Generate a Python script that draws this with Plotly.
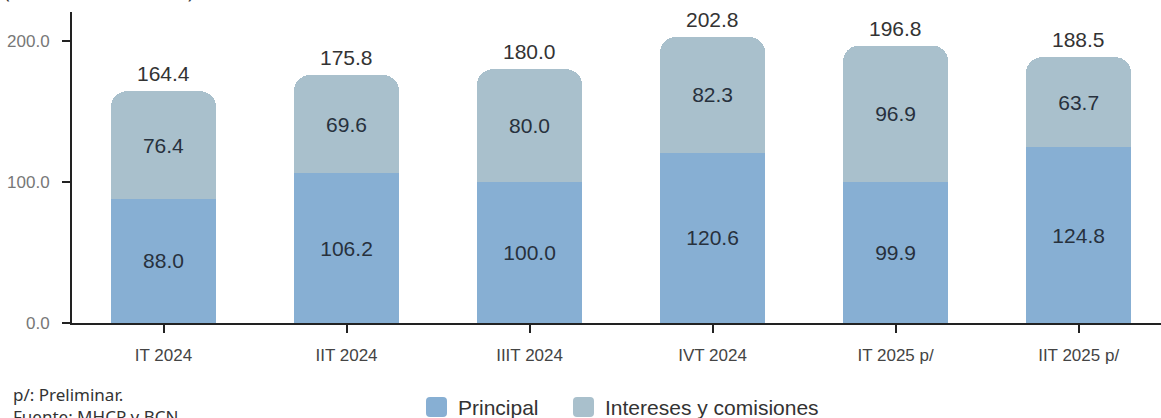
import plotly.graph_objects as go

categories = ["IT 2024", "IIT 2024", "IIIT 2024", "IVT 2024", "IT 2025 p/", "IIT 2025 p/"]
principal = [88.0, 106.2, 100.0, 120.6, 99.9, 124.8]
intereses = [76.4, 69.6, 80.0, 82.3, 96.9, 63.7]
totales = [164.4, 175.8, 180.0, 202.8, 196.8, 188.5]
series_names = ["Principal", "Intereses y comisiones"]

c_principal = "#87afd3"
c_intereses = "#a9c0cc"

W, H = 1161, 418
L, R, T, B = 72, 0, 12, 95
PW, PH = W - L - R, H - T - B


def px_x(px):
    return (px - L) / PW


def px_y(py):
    return (H - B - py) / PH


label_font = dict(family="Liberation Sans, Arial", size=21, color="#27313d")

fig = go.Figure()
for name, vals, col in [(series_names[0], principal, c_principal),
                        (series_names[1], intereses, c_intereses)]:
    fig.add_trace(go.Bar(
        x=categories, y=vals, name=name,
        marker=dict(color=col, line=dict(width=0)),
        text=[f"{v:.1f}" for v in vals], textposition="inside",
        insidetextanchor="middle", textangle=0,
        textfont=label_font, insidetextfont=label_font,
        width=0.575, showlegend=False,
    ))

for c, t in zip(categories, totales):
    fig.add_annotation(x=c, y=t, text=f"{t:.1f}", showarrow=False,
                       yanchor="bottom", yshift=4,
                       font=dict(family="Liberation Sans, Arial", size=21, color="#333333"))

# clipped heading at the very top
fig.add_annotation(xref="paper", yref="paper", x=px_x(2), y=1.0, xanchor="left", yanchor="bottom",
                   yshift=6, text="(Millones de dólares)", showarrow=False,
                   font=dict(family="Noto Sans", size=19.5, color="#333333"))
# footnotes
fig.add_annotation(xref="paper", yref="paper", x=px_x(11), y=px_y(381), xanchor="left", yanchor="top",
                   text="p/: Preliminar.<br>Fuente: MHCP y BCN.", showarrow=False, align="left",
                   font=dict(family="Noto Sans", size=17, color="#333333"))


# legend (custom, larger swatches)
def rounded_rect(x0, y0, x1, y1, r):
    X = lambda v: px_x(v)
    Y = lambda v: px_y(v)
    return (f"M {X(x0 + r)},{Y(y0)} L {X(x1 - r)},{Y(y0)} Q {X(x1)},{Y(y0)} {X(x1)},{Y(y0 + r)} "
            f"L {X(x1)},{Y(y1 - r)} Q {X(x1)},{Y(y1)} {X(x1 - r)},{Y(y1)} "
            f"L {X(x0 + r)},{Y(y1)} Q {X(x0)},{Y(y1)} {X(x0)},{Y(y1 - r)} "
            f"L {X(x0)},{Y(y0 + r)} Q {X(x0)},{Y(y0)} {X(x0 + r)},{Y(y0)} Z")


legend_items = [(series_names[0], c_principal, 426, 458), (series_names[1], c_intereses, 573, 605)]
for name, col, sx, tx in legend_items:
    fig.add_shape(type="path", xref="paper", yref="paper",
                  path=rounded_rect(sx, 397, sx + 21, 417, 4),
                  fillcolor=col, line=dict(width=0), layer="above")
    fig.add_annotation(xref="paper", yref="paper", x=px_x(tx - 2), y=px_y(407),
                       xanchor="left", yanchor="middle", text=name, showarrow=False,
                       font=dict(family="Liberation Sans, Arial", size=21, color="#333333"))

fig.update_layout(
    width=W, height=H,
    barmode="stack", barcornerradius=16,
    margin=dict(l=L, r=R, t=T, b=B, autoexpand=False),
    plot_bgcolor="white", paper_bgcolor="white",
    showlegend=False,
    uniformtext=dict(mode=False),
)
fig.update_xaxes(
    range=[-0.5, 5.45], showline=True, linecolor="#222222", linewidth=2,
    ticks="outside", ticklen=8, tickcolor="#222222", tickwidth=2,
    tickfont=dict(family="Liberation Sans, Arial", size=17, color="#444444"),
    ticklabelstandoff=8,
    showgrid=False, automargin=False,
)
fig.update_yaxes(
    range=[0, 220.6], showline=True, linecolor="#222222", linewidth=2,
    ticks="outside", ticklen=8, tickcolor="#222222", tickwidth=2,
    tickvals=[0, 100, 200], tickformat=".1f",
    tickfont=dict(family="Liberation Sans, Arial", size=17, color="#777777"),
    ticklabelstandoff=9,
    showgrid=False, zeroline=False, automargin=False,
)

fig.write_html("out.html", config={"displayModeBar": False},
               post_script="document.body.style.margin='0';document.body.style.overflow='hidden';")
